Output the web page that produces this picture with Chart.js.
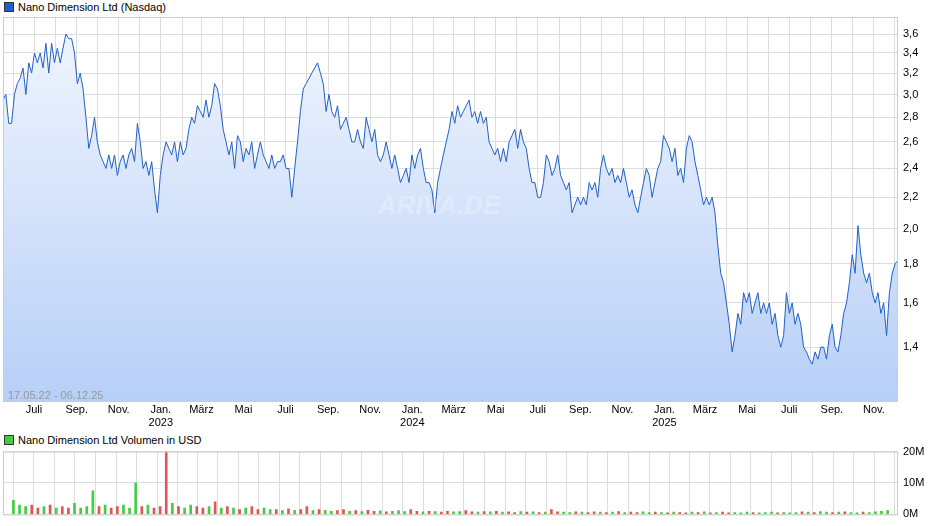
<!DOCTYPE html>
<html><head><meta charset="utf-8">
<script src="https://cdn.jsdelivr.net/npm/chart.js@4.4.1/dist/chart.umd.min.js"></script>
<style>
body{margin:0;width:940px;height:526px;background:#fff;font-family:"Liberation Sans",Arial,sans-serif;position:relative;overflow:hidden}
.lg{position:absolute;left:4px;font-size:11px;color:#000;line-height:12px}
.lg span{display:inline-block;width:8px;height:8px;border:1px solid #333;margin-right:4px;vertical-align:-1px}
#c1w{position:absolute;left:0;top:0;width:940px;height:434px}
#c2w{position:absolute;left:0;top:440px;width:940px;height:86px}
#rng{position:absolute;left:8px;top:389px;font-size:11px;color:#999}
#wm{position:absolute;left:378px;top:190px;font-size:26px;font-weight:bold;font-style:italic;color:rgba(255,255,255,0.25)}
</style></head><body>
<div class="lg" style="top:1px"><span style="background:#1f5fcc"></span>Nano Dimension Ltd (Nasdaq)</div>
<div id="c1w"><canvas id="c1"></canvas></div>
<div id="wm">ARIVA.DE</div>
<div id="rng">17.05.22 - 06.12.25</div>
<div class="lg" style="top:434px"><span style="background:#44cc44"></span>Nano Dimension Ltd Volumen in USD</div>
<div id="c2w"><canvas id="c2"></canvas></div>
<script>
const startDate = "2022-05-17";
const endDate = "2025-12-06";
const priceValues = [2.95,3.0,2.75,2.75,3.0,3.1,3.15,3.25,3.0,3.3,3.2,3.4,3.3,3.4,3.25,3.5,3.2,3.5,3.3,3.45,3.3,3.45,3.6,3.55,3.55,3.4,3.1,3.2,3.05,2.8,2.55,2.65,2.8,2.6,2.5,2.45,2.4,2.5,2.4,2.5,2.35,2.45,2.5,2.4,2.5,2.55,2.45,2.75,2.6,2.4,2.45,2.35,2.45,2.25,2.1,2.35,2.5,2.6,2.55,2.5,2.6,2.45,2.6,2.5,2.55,2.7,2.8,2.75,2.9,2.85,2.8,2.95,2.8,2.9,3.1,3.05,2.9,2.7,2.6,2.5,2.6,2.4,2.65,2.6,2.45,2.55,2.5,2.6,2.4,2.5,2.6,2.5,2.45,2.4,2.5,2.4,2.45,2.45,2.5,2.4,2.4,2.2,2.4,2.6,2.85,3.05,3.1,3.15,3.2,3.25,3.3,3.2,3.1,2.85,3.0,2.85,2.8,2.9,2.7,2.75,2.8,2.7,2.6,2.6,2.7,2.6,2.55,2.8,2.7,2.6,2.7,2.5,2.45,2.5,2.6,2.5,2.4,2.5,2.4,2.3,2.35,2.4,2.3,2.5,2.4,2.5,2.55,2.4,2.3,2.3,2.25,2.1,2.3,2.4,2.5,2.6,2.7,2.85,2.75,2.9,2.8,2.85,2.9,2.95,2.8,2.85,2.75,2.85,2.75,2.8,2.6,2.55,2.5,2.55,2.45,2.55,2.45,2.6,2.65,2.7,2.55,2.7,2.6,2.55,2.4,2.3,2.3,2.2,2.2,2.3,2.5,2.45,2.35,2.4,2.5,2.35,2.3,2.25,2.3,2.1,2.15,2.2,2.15,2.2,2.15,2.3,2.25,2.3,2.2,2.4,2.5,2.4,2.35,2.4,2.3,2.35,2.3,2.4,2.3,2.2,2.25,2.15,2.1,2.2,2.3,2.4,2.35,2.2,2.3,2.4,2.45,2.65,2.6,2.55,2.45,2.55,2.35,2.4,2.3,2.55,2.65,2.6,2.45,2.35,2.25,2.15,2.2,2.15,2.2,2.1,1.9,1.75,1.7,1.6,1.5,1.38,1.45,1.55,1.5,1.65,1.6,1.65,1.55,1.6,1.65,1.55,1.6,1.55,1.6,1.5,1.55,1.45,1.4,1.45,1.65,1.55,1.6,1.5,1.55,1.5,1.4,1.38,1.35,1.33,1.38,1.35,1.4,1.4,1.35,1.45,1.5,1.4,1.38,1.45,1.55,1.6,1.7,1.85,1.75,2.02,1.85,1.75,1.7,1.75,1.65,1.6,1.65,1.55,1.6,1.45,1.65,1.75,1.8,1.82];
const volumeValues = [4.5,3,2.5,3,2,2.5,3,2,2.5,2,3.5,2,2.5,7.5,2.5,3,2,2.5,3,2,10,2.5,3,2,2.5,20,3.5,2.5,2,3,2.5,2,2.5,4,2,2.5,2,1.5,2,2.5,1.5,2,1.5,1.5,1.2,1.8,1.3,1.5,2.5,1.2,1.5,1.3,1,1.2,1.5,1,1.2,0.9,1.3,1,1.1,0.8,1,1.2,0.9,1.5,1,0.8,1,0.9,0.7,1,0.8,0.9,1.2,0.8,0.7,0.9,0.8,1,0.7,0.8,0.6,0.9,0.7,0.8,0.6,0.7,1.5,0.8,0.7,0.6,0.8,0.7,0.6,0.8,0.7,0.6,0.7,0.9,0.6,0.7,0.6,0.8,0.6,0.7,0.6,0.5,0.7,0.6,0.5,0.7,0.6,0.8,0.5,0.6,0.7,0.5,0.6,0.5,0.7,0.6,0.5,0.6,0.7,0.5,0.6,0.5,0.6,0.8,0.7,0.6,0.9,0.7,0.6,0.7,0.8,0.6,0.5,0.7,0.6,0.8,1.0,1.2];
const volumeUp = "gggrrgrgrrggggrgrrgggrgrrrgrggrrgrgrgrgrrggrgrgrrgrggrrgrgrrgrgggrrgrgrrggrrgrgrgrrgrgrgrrggrgrrgrgrgrrggrgrgrrgrgrgrrgggrgggrgggrgrggrgrggrgggg";
const yTicks = [1.4,1.6,1.8,2.0,2.2,2.4,2.6,2.8,3.0,3.2,3.4,3.6];
const volTicks = [0,10,20];
const monthNames = ["Jan.","Feb.","März","Apr.","Mai","Juni","Juli","Aug.","Sep.","Okt.","Nov.","Dez."];

const DAY=86400000, t0=Date.parse(startDate), tEnd=Date.parse(endDate);
const span=(tEnd-t0)/DAY;
const pricePts=priceValues.map((v,i)=>({x:i*span/(priceValues.length-1),y:v}));
const volPts=volumeValues.map((v,i)=>({x:i*span/(volumeValues.length-1),y:v}));
const volCols=volumeValues.map((v,i)=>(volumeUp[i%volumeUp.length]==='g')?'#44cc44':'#e05555');
const monthTicks=[];
for(let y=2022;y<=2025;y++)for(let m=0;m<12;m++){const d=(Date.UTC(y,m,1)-t0)/DAY;if(d>0&&d<span)monthTicks.push({value:d,y,m});}
function mlabel(v){const t=monthTicks.find(o=>Math.abs(o.value-v)<0.5);if(!t||t.m%2!==0)return '';return t.m===0?[monthNames[0],String(t.y)]:monthNames[t.m];}
const border={id:'bd',afterDraw(c){const a=c.chartArea,x=c.ctx;x.save();x.strokeStyle='#cccccc';x.lineWidth=1;x.strokeRect(a.left+0.5,a.top+0.5,a.right-a.left-1,a.bottom-a.top);x.restore();}};
const grid={color:'#dddddd',lineWidth:1,drawTicks:false};
const xScale=(show)=>({type:'linear',min:0,max:span,grid,border:{display:false},
 afterBuildTicks(s){s.ticks=monthTicks.map(o=>({value:o.value}));},
 afterFit(s){s.height=show?33:0;},
 ticks:{display:show,autoSkip:false,maxRotation:0,padding:2,color:'#000',font:{family:'Liberation Sans',size:11},callback:v=>mlabel(v)}});

new Chart(document.getElementById('c1'),{type:'line',
 data:{datasets:[{data:pricePts,borderColor:'#2060c8',borderWidth:1,pointRadius:0,tension:0,fill:'start',
  backgroundColor:(ctx)=>{const a=ctx.chart.chartArea;if(!a)return '#dde8fb';const g=ctx.chart.ctx.createLinearGradient(0,a.top,0,a.bottom);g.addColorStop(0,'#f2f6fe');g.addColorStop(1,'#b7cff7');return g;}}]},
 options:{responsive:true,maintainAspectRatio:false,animation:false,layout:{padding:{top:17,left:3,right:0,bottom:0}},
  plugins:{legend:{display:false},tooltip:{enabled:false}},
  scales:{x:xScale(true),
   y:{type:'logarithmic',position:'right',min:1.19,max:3.79,grid,border:{display:false},
    afterBuildTicks(s){s.ticks=yTicks.map(v=>({value:v}));},afterFit(s){s.width=42;},
    ticks:{padding:5,color:'#000',font:{family:'Liberation Sans',size:11},callback:v=>v.toFixed(1).replace('.',',')}}}},
 plugins:[border]});

new Chart(document.getElementById('c2'),{type:'bar',
 data:{datasets:[{data:volPts,backgroundColor:volCols,barThickness:2}]},
 options:{responsive:true,maintainAspectRatio:false,animation:false,layout:{padding:{top:4,left:3,bottom:2}},
  plugins:{legend:{display:false},tooltip:{enabled:false}},
  scales:{x:xScale(false),
   y:{position:'right',min:0,max:20,grid,border:{display:false},
    afterBuildTicks(s){s.ticks=volTicks.map(v=>({value:v}));},afterFit(s){s.width=42;},
    ticks:{padding:5,color:'#000',font:{family:'Liberation Sans',size:11},callback:v=>v+'M'}}}},
 plugins:[border]});
</script></body></html>
